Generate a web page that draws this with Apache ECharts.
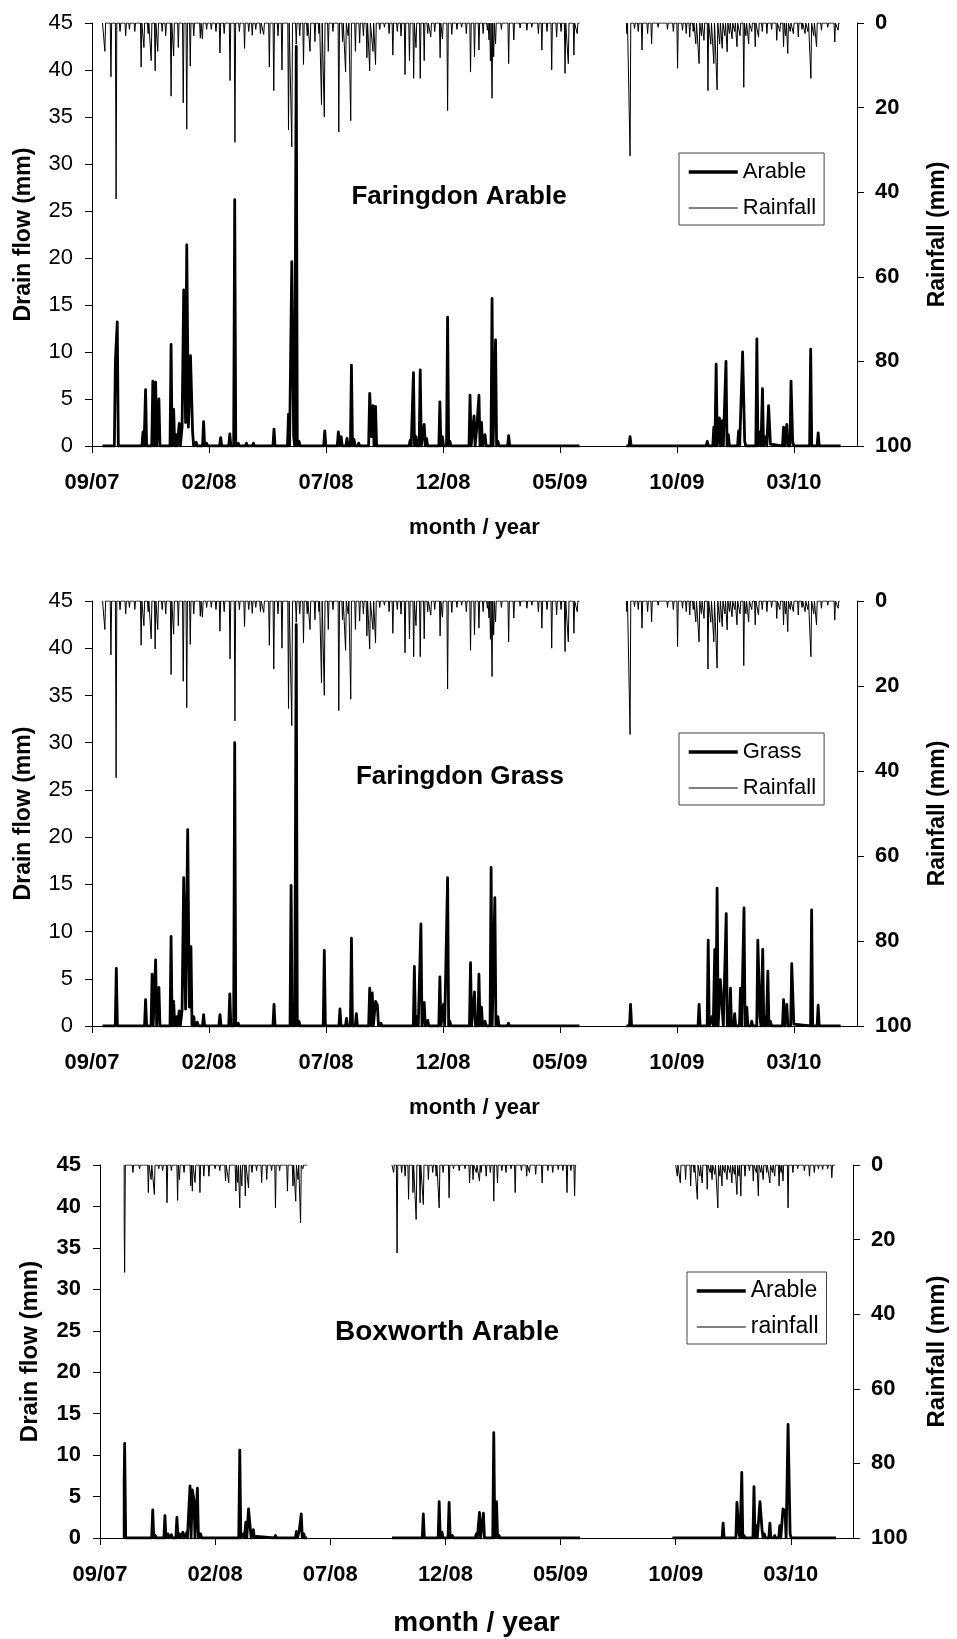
<!DOCTYPE html>
<html>
<head>
<meta charset="utf-8">
<script src="https://cdn.jsdelivr.net/npm/echarts@6/dist/echarts.min.js"></script>
<style>
html, body { margin: 0; padding: 0; background: #fff; }
#main { width: 957px; height: 1639px; }
</style>
</head>
<body>
<div id="main"></div>
<script>
// x values are months since 1 Sep 2007 (tick every 5 months)
var xTickLabels = ['09/07', '02/08', '07/08', '12/08', '05/09', '10/09', '03/10'];
var xMax = 32.7;

// ---- Faringdon rainfall (mm), same gauge for arable and grass plots
var faringdonRainSegments = [[0.45, 20.84], [22.84, 31.96]];
var faringdonRain = [
  [0.55,6.7],[0.81,12.7],[1.03,41.6],[1.2,2],[1.44,3],[1.6,1.5],[1.83,2],[2.1,10.4],[2.22,5.8],[2.4,2.5],
  [2.53,8.9],[2.7,11.3],[2.81,6.7],[3.0,2],[3.15,3],[3.38,17.3],[3.49,7.8],[3.69,5.8],[3.9,18.9],[4.05,25.1],
  [4.2,10.2],[4.35,3],[4.63,3.6],[4.72,3.8],[4.9,1.5],[5.1,1.5],[5.3,2],[5.47,7.1],[5.65,2.5],[5.9,13.6],
  [6.11,28.2],[6.3,2],[6.52,6],[6.7,2],[6.85,2.9],[7.0,1.5],[7.2,2.5],[7.34,2.7],[7.58,10.4],[7.77,16],
  [7.95,3],[8.12,11.1],[8.4,25.3],[8.54,29.3],[8.73,5],[8.88,3],[9.04,9.8],[9.2,3],[9.32,6.7],[9.53,4.4],
  [9.7,2.5],[9.81,19.3],[9.93,22.2],[10.1,6.7],[10.3,2],[10.55,25.8],[10.71,4.4],[10.84,11.6],[10.95,3],[11.06,23.1],
  [11.26,6.7],[11.44,4.7],[11.6,3],[11.75,8.2],[11.87,11.3],[12.01,6.7],[12.12,9.8],[12.3,1.5],[12.5,1],[12.7,2.5],
  [12.86,7.6],[13.05,2],[13.21,3.1],[13.38,12.2],[13.57,8.9],[13.75,13.1],[13.85,5.8],[14.03,13.1],[14.2,8.9],[14.35,2.5],
  [14.48,3.3],[14.65,2],[14.88,8.2],[14.98,3.8],[15.2,20.7],[15.38,2.7],[15.6,1.5],[15.8,1],[16.0,2.5],[16.18,11.6],
  [16.35,8],[16.54,6.4],[16.72,2.5],[16.9,1.7],[16.97,4],[17.03,9],[17.1,17.8],[17.17,8],[17.25,4.9],[17.5,1.5],
  [17.81,9.6],[18.03,4],[18.3,1.2],[18.59,1.7],[18.8,1],[19.08,2.5],[19.23,6.4],[19.45,2],[19.65,11.1],[19.86,3.3],
  [20.05,2],[20.22,11.9],[20.36,9.6],[20.6,7.6],[20.74,2.5],
  [22.86,2.5],[23.0,31.4],[23.19,1.3],[23.35,2],[23.51,6.4],[23.75,2.5],[23.92,4.9],[24.2,1],[24.6,1.5],[24.85,2],
  [25.03,10.7],[25.24,1.7],[25.4,2.5],[25.55,3.3],[25.7,2],[25.81,4.9],[25.95,9.6],[26.05,3],[26.16,4.1],[26.33,16],
  [26.45,5],[26.58,9.6],[26.72,15.8],[26.83,5],[26.94,6],[27.05,3],[27.15,6.8],[27.25,2.5],[27.36,3.7],[27.47,2],
  [27.57,5.6],[27.7,3],[27.86,15.2],[27.95,3],[28.07,4.9],[28.2,2],[28.35,5.6],[28.49,3.3],[28.65,2],[28.85,2.5],
  [29.05,1.5],[29.27,4.1],[29.4,2],[29.56,5.6],[29.65,3],[29.74,7.2],[29.85,2],[29.98,2.5],[30.19,3.3],[30.35,1.5],
  [30.48,2.5],[30.6,2],[30.73,13.1],[30.85,3],[30.97,5.6],[31.18,1.7],[31.45,1],[31.75,4.5],[31.89,1.7]
];

// ---- Faringdon drain flow (mm)
var faringdonFlowSegments = [[0.45, 20.84], [22.84, 32.0]];
var arableFlow = [
  [1.0,9],[1.08,13.2],[2.18,1.5],[2.29,6.0],[2.6,6.9],[2.72,6.8],[2.86,5.0],[3.38,10.8],[3.49,3.9],[3.6,1.2],
  [3.73,2.4],[3.85,2],[3.92,16.6],[4.0,2.5],[4.05,21.4],[4.12,2],[4.21,9.6],[4.3,1.5],[4.45,0.4],[4.77,2.6],
  [4.9,0.3],[5.5,0.9],[5.89,1.3],[6.10,26.2],[6.25,0.3],[6.6,0.3],[6.9,0.3],[7.78,1.8],[8.40,3.4],[8.54,19.6],
  [8.62,1],[8.73,42.5],[8.85,0.5],[9.95,1.6],[10.53,1.5],[10.65,1.0],[10.9,0.8],[11.09,8.6],[11.2,0.7],[11.4,0.3],
  [11.87,5.6],[11.95,1],[12.01,4.3],[12.12,4.2],[12.25,0.2],[13.6,0.6],[13.74,7.8],[13.85,1],[14.03,8.1],[14.2,2.3],
  [14.3,0.8],[14.87,4.7],[14.98,1.0],[15.2,13.7],[15.3,0.5],[16.16,5.4],[16.33,3.2],[16.45,2],[16.54,5.4],[16.65,2.5],
  [16.8,1.2],[17.1,15.7],[17.25,11.3],[17.35,0.5],[17.81,1.1],
  [23.0,1.0],[26.3,0.5],[26.58,2.0],[26.68,8.7],[26.82,3.0],[26.94,2.7],[27.1,9.0],[27.2,1.2],[27.64,1.6],[27.81,10.0],
  [27.9,0.5],[28.42,11.4],[28.55,1.5],[28.66,6.1],[28.8,1],[28.92,4.3],[29.0,0.2],[29.56,2.0],[29.7,2.3],[29.88,6.9],
  [29.95,0.5],[30.72,10.3],[31.04,1.4]
];
var grassFlow = [
  [1.04,6.1],[2.29,2.8],[2.57,5.5],[2.72,7.0],[2.86,4.1],[3.38,9.5],[3.49,2.6],[3.6,1],[3.73,1.6],[3.85,1.7],
  [3.92,15.7],[4.0,1.8],[4.09,20.8],[4.16,2],[4.23,8.4],[4.35,1],[4.5,0.4],[4.77,1.2],[5.47,1.2],[5.89,3.4],
  [6.10,30.0],[6.25,0.3],[7.78,2.3],[8.51,14.9],[8.62,1],[8.73,42.5],[8.85,0.5],[9.93,8.0],[10.6,1.8],[10.88,0.8],
  [11.09,9.3],[11.3,1.3],[11.87,4.0],[11.98,3.5],[12.12,2.6],[12.2,2.2],[12.35,0.3],[13.38,0.2],[13.78,6.3],[13.9,1],
  [14.06,10.8],[14.2,2.5],[14.35,0.6],[14.87,5.2],[15.03,2.3],[15.2,15.7],[15.3,0.5],[16.18,6.7],[16.35,3.6],[16.54,5.5],
  [16.65,2],[16.8,0.5],[17.06,16.8],[17.22,13.6],[17.35,1],[17.8,0.3],
  [23.02,2.3],[25.95,2.3],[26.34,9.1],[26.51,1.0],[26.62,8.1],[26.72,14.6],[26.86,4.9],[26.94,4.8],[27.11,11.9],[27.29,4],
  [27.47,1.3],[27.72,4],[27.87,12.5],[27.99,2],[28.2,0.5],[28.46,9.1],[28.55,1],[28.67,8.1],[28.78,1],[28.89,5.8],
  [29.0,0.5],[29.56,2.8],[29.7,2.3],[29.91,6.6],[30.0,0.2],[30.76,12.3],[31.04,2.2]
];

// ---- Boxworth
var boxworthRainSegments = [[1.05, 9.0], [12.68, 20.68], [25.0, 31.93]];
var boxworthRain = [
  [1.05,15.5],[1.07,28.8],[1.43,2],[1.72,1],[2.1,7.4],[2.22,3.9],[2.36,7.9],[2.55,1],[2.72,1.5],[2.91,10.1],
  [3.1,1.5],[3.37,9.5],[3.45,3.9],[3.65,2],[3.94,5.6],[4.01,7],[4.13,4.7],[4.34,7.4],[4.51,3],[4.73,3],
  [5.0,1],[5.2,1.5],[5.45,4.3],[5.59,4.7],[5.9,7],[5.98,4.7],[6.07,11.5],[6.16,5.6],[6.31,8.3],[6.45,6.1],
  [6.6,2],[6.8,1.5],[7.02,4.7],[7.24,3.9],[7.45,1.5],[7.62,11.5],[7.8,1.5],[8.14,7],[8.38,5.6],[8.5,9.7],
  [8.6,3.9],[8.71,15.5],[8.81,1],
  [12.75,2],[12.9,23.6],[13.1,2],[13.25,3],[13.4,9.2],[13.59,7.4],[13.73,14.6],[13.9,10.1],[14.04,10.6],[14.26,3.9],
  [14.45,2],[14.6,3],[14.73,11.5],[14.9,2],[15.16,8.8],[15.35,1],[15.6,1.5],[15.85,1],[16.05,4.8],[16.2,3.9],
  [16.34,2],[16.48,4.3],[16.55,2],[16.77,3],[16.95,2],[17.1,9.7],[17.26,4.8],[17.45,1.5],[17.63,2],[17.85,1],
  [18.03,7.4],[18.3,1.5],[18.53,3],[18.65,2],[18.92,2.5],[19.2,4.8],[19.45,1.5],[19.66,2],[19.9,1.2],[20.1,1.5],
  [20.28,7.4],[20.45,1.5],[20.61,8.3],
  [25.07,3],[25.2,4.8],[25.43,3.9],[25.65,5.6],[25.8,2],[25.94,9.2],[26.05,3],[26.15,4.8],[26.37,6.5],[26.5,2],
  [26.58,3.9],[26.7,2.5],[26.83,11.5],[26.92,3],[27.01,5.6],[27.12,2],[27.23,3.9],[27.35,2],[27.44,4.8],[27.55,2.5],
  [27.66,7.9],[27.75,3],[27.83,8.3],[28.01,3],[28.2,1.5],[28.37,4.3],[28.5,2],[28.59,8.3],[28.7,2],[28.8,3.9],
  [28.95,2],[29.09,4.8],[29.2,2],[29.3,3],[29.49,5.6],[29.58,2],[29.66,4.3],[29.88,11.5],[30.09,2],[30.3,1],
  [30.59,1.6],[30.81,3],[31.02,2],[31.2,1],[31.38,1.2],[31.6,1],[31.78,3.4]
];
var boxworthFlowSegments = [[1.05, 9.0], [12.68, 20.85], [24.86, 31.96]];
var boxworthFlow = [
  [1.05,6.8],[1.07,11.4],[2.29,3.4],[2.4,0.3],[2.82,2.7],[2.95,0.5],[3.1,0.4],[3.34,2.5],[3.45,0.5],[3.6,0.7],
  [3.75,0.6],[3.91,6.3],[4.01,5.8],[4.08,4.6],[4.23,6.0],[4.37,0.5],[4.59,0.2],[5.88,0.2],[6.07,10.6],[6.23,0.5],
  [6.33,1.9],[6.45,3.5],[6.52,3.4],[6.66,1.0],[6.8,0.2],[7.62,0.3],[8.53,0.8],[8.65,0.8],[8.74,2.9],[8.85,0.5],
  [13.83,0.2],[14.04,2.9],[14.15,0.2],[14.73,4.4],[14.85,0.7],[15.16,4.3],[15.3,0.3],[16.1,0.1],[16.34,0.5],[16.48,3.1],
  [16.65,3.0],[16.77,0.2],[17.1,12.7],[17.22,4.4],[17.33,0.3],[17.7,0.2],[18.0,0.1],
  [26.8,0.2],[27.06,1.8],[27.66,4.3],[27.75,0.5],[27.87,7.9],[27.97,0.3],[28.4,6.2],[28.5,1.5],[28.66,4.4],[28.75,1.0],
  [28.85,0.5],[29.09,1.8],[29.3,0.3],[29.52,1.5],[29.66,3.5],[29.75,3.3],[29.88,13.7],[29.97,0.5]
];

var FONT = '"Liberation Sans", Arial, Helvetica, sans-serif';

// daily record drawn as a line that sits on 0 between the listed readings
function spikeLine(segments, readings, hw) {
  var out = [];
  segments.forEach(function (seg) {
    var pts = readings.filter(function (p) { return p[0] >= seg[0] && p[0] <= seg[1]; })
      .sort(function (a, b) { return a[0] - b[0]; });
    out.push([seg[0], 0]);
    pts.forEach(function (p, i) {
      var prev = i > 0 ? pts[i - 1][0] : seg[0];
      var next = i < pts.length - 1 ? pts[i + 1][0] : seg[1];
      if (p[0] - prev > 2 * hw) out.push([p[0] - hw, 0]);
      out.push(p);
      if (next - p[0] > 2 * hw) out.push([p[0] + hw, 0]);
    });
    out.push([seg[1], 0]);
    out.push([seg[1], null]);
  });
  return out;
}

function monthLabel(v) {
  var k = Math.round(v);
  if (Math.abs(v - k) > 1e-6 || k % 5 !== 0) return '';
  return xTickLabels[k / 5] || '';
}

var panels = [
  { grid: { left: 92, top: 23, width: 770, height: 423 }, title: 'Faringdon Arable', tx: 459, ty: 197, tSize: 26,
    leftBold: false, nameSize: 23, xNameSize: 22, leftGap: 57, rightGap: 69,
    legend: { left: 679, top: 153 }, flowName: 'Arable', rainName: 'Rainfall', legendSize: 22,
    flow: spikeLine(faringdonFlowSegments, arableFlow, 0.045),
    rain: spikeLine(faringdonRainSegments, faringdonRain, 0.03) },
  { grid: { left: 92, top: 601, width: 769, height: 425 }, title: 'Faringdon Grass', tx: 460, ty: 777, tSize: 26,
    leftBold: false, nameSize: 23, xNameSize: 22, leftGap: 57, rightGap: 69,
    legend: { left: 679, top: 733 }, flowName: 'Grass', rainName: 'Rainfall', legendSize: 22,
    flow: spikeLine(faringdonFlowSegments, grassFlow, 0.045),
    rain: spikeLine(faringdonRainSegments, faringdonRain, 0.03) },
  { grid: { left: 100, top: 1165, width: 758, height: 373 }, title: 'Boxworth Arable', tx: 447, ty: 1332, tSize: 28,
    leftBold: true, nameSize: 24, xNameSize: 28, leftGap: 58, rightGap: 72,
    legend: { left: 687, top: 1272 }, flowName: 'Arable', rainName: 'rainfall', legendSize: 23,
    flow: spikeLine(boxworthFlowSegments, boxworthFlow, 0.045),
    rain: spikeLine(boxworthRainSegments, boxworthRain, 0.03) }
];

var axisLine = { show: true, onZero: false, lineStyle: { color: '#000', width: 1 } };
var grids = [], xAxes = [], yAxes = [], series = [], legends = [], texts = [];

panels.forEach(function (p, i) {
  grids.push(p.grid);
  xAxes.push({
    type: 'value', gridIndex: i, min: 0, max: xMax, interval: 5,
    axisLine: axisLine, splitLine: { show: false },
    axisTick: { show: true, inside: false, length: 7, lineStyle: { color: '#000' } },
    axisLabel: { formatter: monthLabel, showMaxLabel: false, margin: 26, color: '#000',
      fontFamily: FONT, fontWeight: 'bold', fontSize: 22 },
    name: 'month / year', nameLocation: 'middle', nameGap: 71,
    nameTextStyle: { fontFamily: FONT, fontWeight: 'bold', fontSize: p.xNameSize, color: '#000' }
  });
  yAxes.push({
    type: 'value', gridIndex: i, position: 'left', min: 0, max: 45, interval: 5,
    axisLine: axisLine, splitLine: { show: false },
    axisTick: { show: true, inside: false, length: 7, lineStyle: { color: '#000' } },
    axisLabel: { margin: 19, color: '#000', fontFamily: FONT, fontSize: 22,
      fontWeight: p.leftBold ? 'bold' : 'normal' },
    name: 'Drain flow (mm)', nameLocation: 'middle', nameGap: p.leftGap,
    nameTextStyle: { fontFamily: FONT, fontWeight: 'bold', fontSize: p.nameSize, color: '#000' }
  });
  yAxes.push({
    type: 'value', gridIndex: i, position: 'right', inverse: true, min: 0, max: 100, interval: 20,
    axisLine: axisLine, splitLine: { show: false },
    axisTick: { show: true, inside: false, length: 7, lineStyle: { color: '#000' } },
    axisLabel: { margin: 18, color: '#000', fontFamily: FONT, fontWeight: 'bold', fontSize: 22 },
    name: 'Rainfall (mm)', nameLocation: 'middle', nameGap: p.rightGap,
    nameTextStyle: { fontFamily: FONT, fontWeight: 'bold', fontSize: p.nameSize, color: '#000' }
  });
  series.push({
    name: p.rainName, type: 'line', xAxisIndex: i, yAxisIndex: 2 * i + 1,
    data: p.rain, symbol: 'none', showSymbol: false, connectNulls: false, z: 2,
    lineStyle: { color: '#000', width: 1, join: 'round' }, itemStyle: { color: '#000' }
  });
  series.push({
    name: p.flowName, type: 'line', xAxisIndex: i, yAxisIndex: 2 * i,
    data: p.flow, symbol: 'none', showSymbol: false, connectNulls: false, z: 3,
    lineStyle: { color: '#000', width: 2.8, join: 'round' }, itemStyle: { color: '#000' }
  });
  legends.push({
    left: p.legend.left, top: p.legend.top, orient: 'vertical',
    data: [
      { name: p.flowName, itemStyle: { opacity: 0 }, lineStyle: { width: 3.5, color: '#000' } },
      { name: p.rainName, itemStyle: { opacity: 0 }, lineStyle: { width: 1, color: '#000' } }
    ],
    selectedMode: false,
    itemWidth: 49, itemHeight: 14, itemGap: 10,
    itemStyle: { opacity: 0 },
    padding: [6, 8, 4, 8], borderColor: '#444', borderWidth: 1, backgroundColor: '#fff',
    textStyle: { fontFamily: FONT, fontSize: p.legendSize, color: '#000', lineHeight: 26 }
  });
  texts.push({
    type: 'text', z: 10,
    style: { x: p.tx, y: p.ty, text: p.title, textAlign: 'center', textVerticalAlign: 'middle',
      font: 'bold ' + p.tSize + 'px ' + FONT, fill: '#000' }
  });
});

var myChart = echarts.init(document.getElementById('main'), null, { renderer: 'canvas' });
myChart.setOption({
  animation: false,
  backgroundColor: '#fff',
  grid: grids,
  xAxis: xAxes,
  yAxis: yAxes,
  legend: legends,
  series: series,
  graphic: texts
});
</script>
</body>
</html>
